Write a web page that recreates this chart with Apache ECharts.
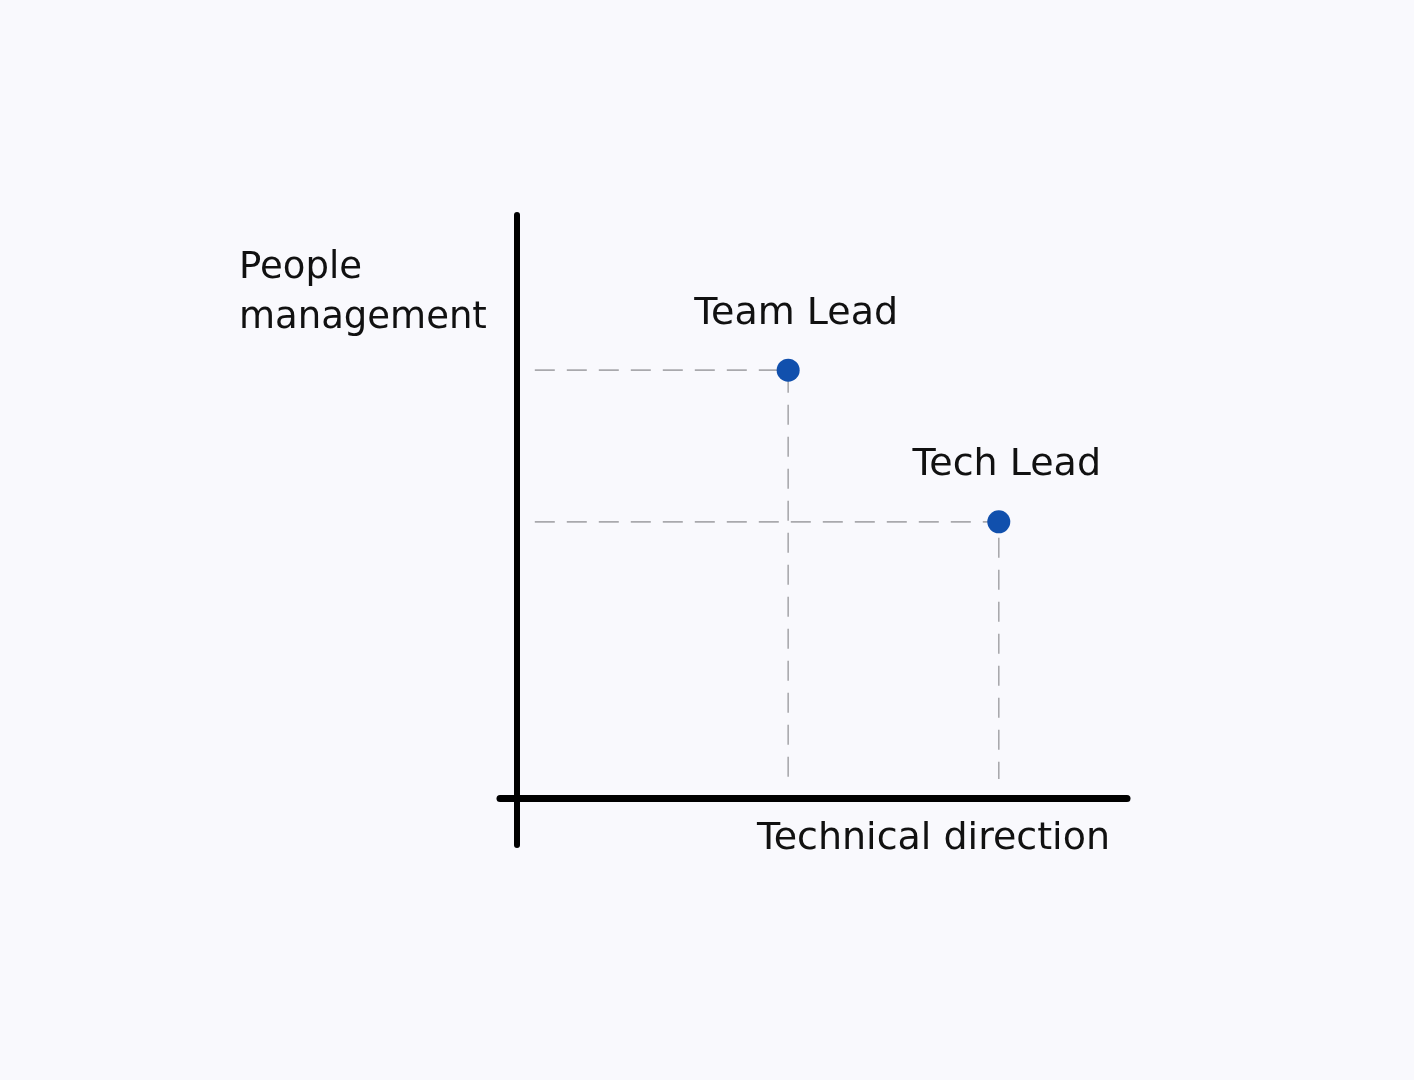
<!DOCTYPE html>
<html>
<head>
    <meta charset="UTF-8">
    <title>Team Lead vs Tech Lead</title>
    <script src="https://cdn.jsdelivr.net/npm/echarts@6/dist/echarts.min.js"></script>
    <style>
        html, body { margin: 0; padding: 0; background: #f9f9fd; }
        #chart { width: 1414px; height: 1080px; }
    </style>
</head>
<body>
<div id="chart"></div>
<script type="text/javascript">
// roles and where they sit
var roles = ['Team Lead', 'Tech Lead'];
var technical = [4.45, 7.9];   // x: technical direction
var people = [7.34, 4.74];     // y: people management
var xName = 'Technical direction';
var yName = 'People\nmanagement';

var handFont = '"DejaVu Sans", sans-serif';
var myChart = echarts.init(document.getElementById('chart'));

// dashed guides from the axes to each point
var guideSeries = roles.map(function (r, i) {
    return {
        type: 'line',
        name: r + ' guide',
        data: [[0.3, people[i]], [technical[i], people[i]], [technical[i], 0.33]],
        showSymbol: false,
        symbol: 'none',
        silent: true,
        z: 1,
        lineStyle: { color: '#a9a9ad', width: 1.6, type: [20, 12] }
    };
});

var option = {
    backgroundColor: '#f9f9fd',
    animation: false,
    title: {
        text: yName,
        left: 234,
        top: 238,
        textStyle: {
            fontFamily: handFont,
            fontWeight: 'normal',
            fontSize: 37,
            lineHeight: 50,
            color: '#111'
        }
    },
    grid: { left: 500, right: 287, top: 215, bottom: 235 },
    xAxis: {
        type: 'value',
        min: -0.27,
        max: 10,
        name: xName,
        nameLocation: 'end',
        nameGap: -17,
        nameTextStyle: {
            fontFamily: handFont,
            fontSize: 38,
            color: '#111',
            align: 'right',
            verticalAlign: 'top',
            padding: [22, 0, 0, 0]
        },
        axisLine: { onZero: true, lineStyle: { color: '#000', width: 7, cap: 'round' } },
        axisTick: { show: false },
        axisLabel: { show: false },
        splitLine: { show: false }
    },
    yAxis: {
        type: 'value',
        min: -0.8,
        max: 10,
        axisLine: { onZero: true, lineStyle: { color: '#000', width: 6, cap: 'round' } },
        axisTick: { show: false },
        axisLabel: { show: false },
        splitLine: { show: false }
    },
    series: guideSeries.concat([{
        type: 'scatter',
        name: 'roles',
        z: 5,
        symbolSize: 23,
        itemStyle: { color: '#1150ad', opacity: 1 },
        label: {
            show: true,
            position: 'top',
            distance: 26,
            offset: [8, 0],
            formatter: function (p) { return roles[p.dataIndex]; },
            fontFamily: handFont,
            fontSize: 38,
            color: '#111'
        },
        data: roles.map(function (r, i) { return [technical[i], people[i]]; })
    }])
};
myChart.setOption(option, true);
window.onresize = myChart.resize;
</script>
</body>
</html>
